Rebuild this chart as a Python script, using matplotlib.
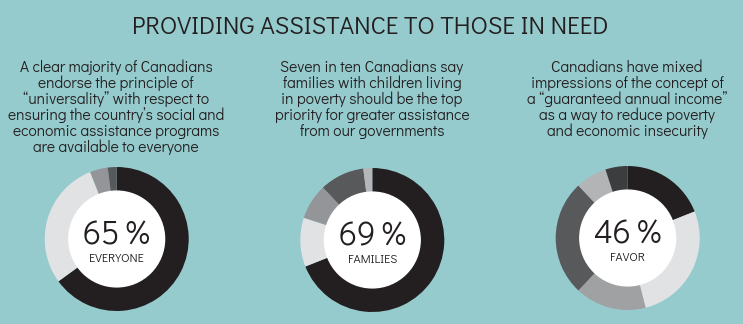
import matplotlib.pyplot as plt
from matplotlib.patches import Circle

# donut values, clockwise from 12 o'clock
everyone = [65, 29, 4, 2]
families = [69, 11, 8, 10, 2]
favor = [19, 27, 16, 26, 7, 5]

big_labels = ["65\u2009%", "69\u2009%", "46\u2009%"]
small_labels = ["EVERYONE", "FAMILIES", "FAVOR"]

texts = [
    ["A clear majority of Canadians", "endorse the principle of",
     "\u201cuniversality\u201d with respect to", "ensuring the country\u2019s social and",
     "economic assistance programs", "are available to everyone"],
    ["Seven in ten Canadians say", "families with children living",
     "in poverty should be the top", "priority for greater assistance",
     "from our governments"],
    ["Canadians have mixed", "impressions of the concept of",
     "a \u201cguaranteed annual income\u201d", "as a way to reduce poverty",
     "and economic insecurity"],
]

colors = [
    ["#231f20", "#e1e2e3", "#939598", "#58595b"],
    ["#231f20", "#e1e2e3", "#939598", "#58595b", "#b5b6b8"],
    ["#231f20", "#e1e2e3", "#a0a1a3", "#58595b", "#b3b4b6", "#3c3d3f"],
]

BG = "#96cbce"
INK = "#231f20"
W, H = 743, 324
GEO = ["Didact Gothic", "DejaVu Sans"]

fig = plt.figure(figsize=(W / 100, H / 100), dpi=100, facecolor=BG)


def px(x, y):
    return x / W, 1 - y / H


fig.text(*px(370, 34), "PROVIDING ASSISTANCE TO THOSE IN NEED",
         ha="center", va="baseline", fontsize=18, color=INK, family=GEO)

text_x = [116, 372, 627]
for tx, block in zip(text_x, texts):
    for i, line in enumerate(block):
        fig.text(*px(tx, 72 + 16 * i), line, ha="center", va="baseline",
                 fontsize=11.2, color=INK, family=GEO)

centers = [(116.7, 239), (372.3, 240), (627.7, 238)]
R = 72
for (cx, cy), vals, cols, big, small in zip(centers, [everyone, families, favor],
                                            colors, big_labels, small_labels):
    ax = fig.add_axes([(cx - R) / W, (H - cy - R) / H, 2 * R / W, 2 * R / H])
    ax.pie(vals, colors=cols, startangle=90, counterclock=False,
           wedgeprops=dict(width=0.34, linewidth=0))
    ax.add_patch(Circle((0, 0), 0.665, color="white", zorder=5))
    ax.text(0, -0.083, big, ha="center", va="baseline", fontsize=23.5, color=INK,
            family=GEO, zorder=6)
    ax.text(0, -0.32, small, ha="center", va="baseline", fontsize=8.8, color=INK,
            family=GEO, zorder=6)
    ax.set_xlim(-1, 1)
    ax.set_ylim(-1, 1)
    ax.axis("off")

fig.savefig("out.png", dpi=100, facecolor=BG)
